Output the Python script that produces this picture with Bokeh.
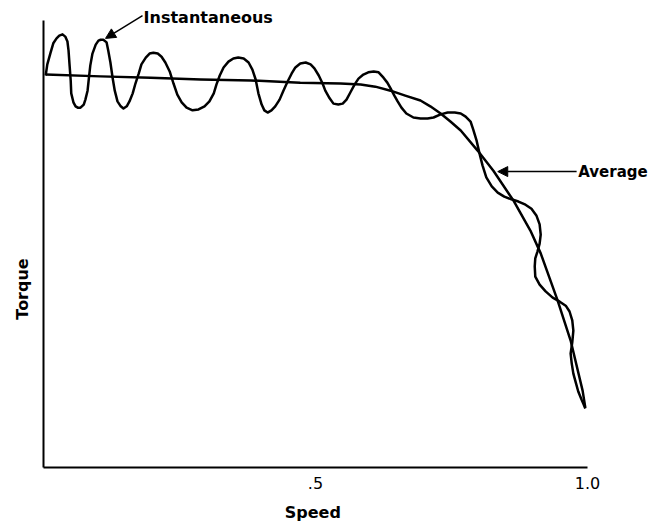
import math
from bokeh.plotting import figure
from bokeh.models import Range1d, FixedTicker, Arrow, NormalHead, Label, LinearAxis
from bokeh.embed import file_html
from bokeh.resources import INLINE

# ---- data (speed as fraction of synchronous, torque in relative units) ----
avg_speed = [0.004, 0.105, 0.197, 0.289, 0.381, 0.472, 0.546, 0.583, 0.610, 0.638,
             0.665, 0.693, 0.711, 0.730, 0.748, 0.767, 0.798, 0.827, 0.864, 0.895,
             0.914, 0.945, 0.969, 0.991, 0.996]
avg_torque = [0.879, 0.875, 0.872, 0.868, 0.866, 0.861, 0.859, 0.857, 0.852, 0.843,
              0.832, 0.821, 0.808, 0.792, 0.774, 0.754, 0.709, 0.664, 0.597, 0.530,
              0.479, 0.374, 0.284, 0.172, 0.134]

inst_speed = [0.004, 0.007, 0.013, 0.018, 0.024, 0.029, 0.035, 0.040, 0.044, 0.046,
              0.048, 0.050, 0.051, 0.055, 0.059, 0.063, 0.068, 0.074, 0.077, 0.081,
              0.083, 0.086, 0.090, 0.096, 0.101, 0.105, 0.110, 0.116, 0.119, 0.123,
              0.127, 0.131, 0.136, 0.142, 0.147, 0.153, 0.158, 0.164, 0.169, 0.175,
              0.180, 0.188, 0.195, 0.202, 0.210, 0.217, 0.224, 0.232, 0.239, 0.246,
              0.254, 0.263, 0.274, 0.285, 0.296, 0.305, 0.313, 0.318, 0.324, 0.331,
              0.340, 0.349, 0.358, 0.368, 0.377, 0.384, 0.390, 0.395, 0.401, 0.406,
              0.412, 0.419, 0.426, 0.434, 0.441, 0.449, 0.456, 0.463, 0.472, 0.482,
              0.491, 0.498, 0.506, 0.513, 0.518, 0.526, 0.533, 0.542, 0.550, 0.557,
              0.564, 0.572, 0.579, 0.588, 0.597, 0.607, 0.616, 0.625, 0.632, 0.638,
              0.645, 0.651, 0.658, 0.667, 0.680, 0.693, 0.706, 0.717, 0.730, 0.743,
              0.756, 0.767, 0.776, 0.785, 0.790, 0.796, 0.801, 0.807, 0.814, 0.824,
              0.835, 0.847, 0.860, 0.873, 0.886, 0.897, 0.906, 0.912, 0.914, 0.912,
              0.908, 0.904, 0.903, 0.904, 0.912, 0.923, 0.936, 0.949, 0.960, 0.967,
              0.972, 0.974, 0.972, 0.969, 0.971, 0.974, 0.978, 0.983, 0.989, 0.993,
              0.996]
inst_torque = [0.877, 0.902, 0.928, 0.949, 0.960, 0.966, 0.969, 0.964, 0.953, 0.933,
               0.899, 0.866, 0.837, 0.817, 0.808, 0.805, 0.805, 0.812, 0.823, 0.843,
               0.866, 0.899, 0.926, 0.946, 0.955, 0.957, 0.957, 0.951, 0.933, 0.906,
               0.872, 0.843, 0.819, 0.808, 0.803, 0.808, 0.819, 0.837, 0.859, 0.881,
               0.902, 0.917, 0.926, 0.928, 0.926, 0.919, 0.906, 0.886, 0.859, 0.834,
               0.817, 0.805, 0.799, 0.801, 0.808, 0.819, 0.837, 0.857, 0.877, 0.895,
               0.908, 0.915, 0.917, 0.915, 0.906, 0.890, 0.868, 0.837, 0.812, 0.799,
               0.794, 0.799, 0.808, 0.823, 0.843, 0.864, 0.881, 0.895, 0.904, 0.906,
               0.902, 0.893, 0.877, 0.859, 0.843, 0.826, 0.814, 0.812, 0.814, 0.823,
               0.839, 0.857, 0.870, 0.879, 0.884, 0.886, 0.884, 0.872, 0.861, 0.848,
               0.832, 0.819, 0.805, 0.792, 0.783, 0.781, 0.781, 0.783, 0.790, 0.794,
               0.794, 0.792, 0.785, 0.774, 0.756, 0.732, 0.705, 0.676, 0.649, 0.629,
               0.615, 0.606, 0.600, 0.595, 0.588, 0.579, 0.564, 0.544, 0.521, 0.501,
               0.483, 0.468, 0.450, 0.427, 0.409, 0.394, 0.380, 0.371, 0.362, 0.349,
               0.329, 0.306, 0.280, 0.255, 0.233, 0.210, 0.192, 0.170, 0.152, 0.141,
               0.132]

speed_ticks = [0.5, 1.0]
speed_tick_labels = [".5", "1.0"]

FONT = "DejaVu Sans"

p = figure(width=653, height=525,
           x_range=Range1d(0, 610 / 544), y_range=Range1d(0, 467 / 447),
           output_backend="svg", toolbar_location=None,
           min_border_left=43, min_border_right=0,
           min_border_top=0, min_border_bottom=58)
p.outline_line_color = None
p.xgrid.grid_line_color = None
p.ygrid.grid_line_color = None
p.background_fill_color = "white"
p.border_fill_color = "white"


def bare(ax):
    ax.major_tick_out = 0
    ax.major_tick_in = 0
    ax.minor_tick_out = 0
    ax.minor_tick_in = 0


# x axis with tick labels
xa = p.xaxis[0]
xa.bounds = (0, 1)
xa.ticker = FixedTicker(ticks=speed_ticks)
xa.major_label_overrides = dict(zip(speed_ticks, speed_tick_labels))
bare(xa)
xa.axis_line_width = 2
xa.axis_line_color = "black"
xa.major_label_text_font = FONT
xa.major_label_text_font_size = "16px"
xa.major_label_text_color = "black"
xa.major_label_standoff = 9

# x title, placed under the middle of the speed axis
xt = LinearAxis(ticker=FixedTicker(ticks=[0.495]),
                major_label_overrides={0.495: "Speed"},
                axis_line_color=None, major_label_standoff=11,
                major_label_text_font=FONT, major_label_text_font_style="bold",
                major_label_text_font_size="16px", major_label_text_color="black")
bare(xt)
p.add_layout(xt, "below")

# y axis (line only)
ya = p.yaxis[0]
ya.bounds = (0, 1)
ya.ticker = FixedTicker(ticks=[])
bare(ya)
ya.major_label_standoff = 0
ya.axis_line_width = 2
ya.axis_line_color = "black"

# y title (its text ends at the tick, reading upwards)
yt = LinearAxis(ticker=FixedTicker(ticks=[0.468]),
                major_label_overrides={0.468: "Torque"},
                major_label_orientation=math.pi / 2,
                axis_line_color=None, major_label_standoff=21,
                major_label_text_font=FONT, major_label_text_font_style="bold",
                major_label_text_font_size="16px", major_label_text_color="black")
bare(yt)
p.add_layout(yt, "left")

# curves
p.line(avg_speed, avg_torque, line_color="black", line_width=2.5, line_join="round")
p.line(inst_speed, inst_torque, line_color="black", line_width=2.5, line_join="round")

# annotations
p.add_layout(Arrow(end=NormalHead(size=10, fill_color="black", line_color="black"),
                   x_start=0.182, y_start=1.011, x_end=0.114, y_end=0.960,
                   line_color="black", line_width=1.5))
p.add_layout(Label(x=0.184, y=1.007, text="Instantaneous", text_font=FONT,
                   text_font_style="bold", text_font_size="16px",
                   text_baseline="middle", text_align="left", text_color="black"))

p.add_layout(Arrow(end=NormalHead(size=10, fill_color="black", line_color="black"),
                   x_start=0.980, y_start=0.662, x_end=0.835, y_end=0.662,
                   line_color="black", line_width=1.5))
p.add_layout(Label(x=0.983, y=0.660, text="Average", text_font=FONT,
                   text_font_style="bold", text_font_size="15px",
                   text_baseline="middle", text_align="left", text_color="black"))

open("out.html", "w").write(file_html(p, INLINE))
